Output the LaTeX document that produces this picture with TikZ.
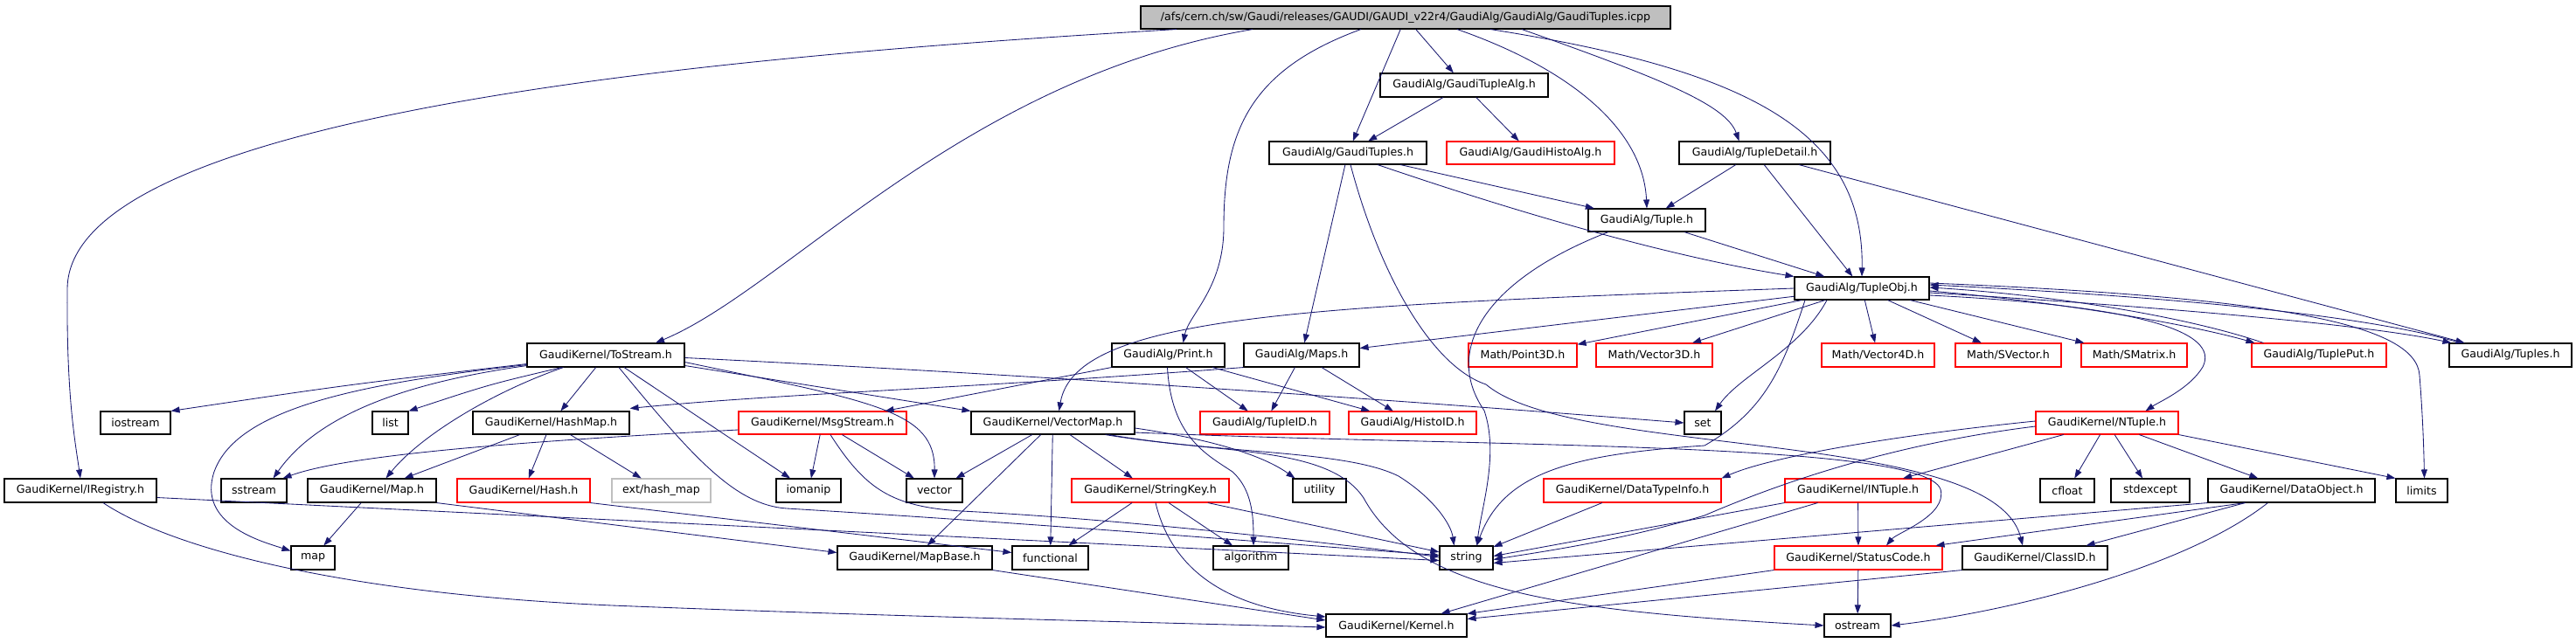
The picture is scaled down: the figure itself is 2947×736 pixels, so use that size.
\documentclass[tikz,border=0pt]{standalone}
\usepackage{fontspec}
\setmainfont{DejaVu Sans}
\usetikzlibrary{arrows.meta}
\definecolor{edgec}{RGB}{25,25,112}
\definecolor{rootgray}{RGB}{191,191,191}
\definecolor{lightgr}{RGB}{191,191,191}
\newcommand{\fsz}{\fontsize{12.6}{15}\selectfont}
\newcommand{\mkbox}[7]{%
  \pgfmathsetmacro{\cxx}{(#2+#4)/2}%
  \pgfmathsetmacro{\cyy}{(#3+#5)/2}%
  \pgfmathsetmacro{\www}{#4-#2}%
  \pgfmathsetmacro{\hhh}{#5-#3}%
  \node[#6, minimum width=\www pt, minimum height=\hhh pt] (#1) at (\cxx,\cyy) {#7};}
\tikzset{
  bbox/.style={draw=black, line width=1.1pt, inner sep=0pt, font=\fsz, text=black},
  rbox/.style={bbox, draw=red},
  gbox/.style={bbox, draw=lightgr},
  rootbox/.style={bbox, fill=rootgray},
  e/.style={draw=edgec, line width=0.85pt, -{Triangle[length=10pt,width=7pt]}}
}
\begin{document}
\begin{tikzpicture}[x=1pt,y=-1pt]
\useasboundingbox (0,0) rectangle (2947,736);
% row 0-2
\mkbox{root}{1305}{7}{1911}{33}{rootbox}{/afs/cern.ch/sw/Gaudi/releases/GAUDI/GAUDI\_v22r4/GaudiAlg/GaudiAlg/GaudiTuples.icpp}
\mkbox{tupalg}{1579}{84}{1771}{111}{bbox}{GaudiAlg/GaudiTupleAlg.h}
\mkbox{tuples}{1452}{162}{1632}{188}{bbox}{GaudiAlg/GaudiTuples.h}
\mkbox{histoalg}{1655}{162}{1847}{188}{rbox}{GaudiAlg/GaudiHistoAlg.h}
\mkbox{detail}{1921}{162}{2094}{188}{bbox}{GaudiAlg/TupleDetail.h}
\mkbox{tuple}{1817}{239}{1951}{265}{bbox}{GaudiAlg/Tuple.h}
\mkbox{tobj}{2053}{317}{2207}{343}{bbox}{GaudiAlg/TupleObj.h}
% row 393
\mkbox{tostream}{603}{393}{783}{420}{bbox}{GaudiKernel/ToStream.h}
\mkbox{print}{1272}{393}{1401}{420}{bbox}{GaudiAlg/Print.h}
\mkbox{maps}{1423}{393}{1555}{420}{bbox}{GaudiAlg/Maps.h}
\mkbox{p3d}{1680}{393}{1804}{420}{rbox}{Math/Point3D.h}
\mkbox{v3d}{1826}{393}{1959}{420}{rbox}{Math/Vector3D.h}
\mkbox{v4d}{2084}{393}{2213}{420}{rbox}{Math/Vector4D.h}
\mkbox{svec}{2237}{393}{2358}{420}{rbox}{Math/SVector.h}
\mkbox{smat}{2381}{393}{2502}{420}{rbox}{Math/SMatrix.h}
\mkbox{tput}{2576}{393}{2730}{420}{rbox}{GaudiAlg/TuplePut.h}
\mkbox{tuplesh}{2802}{393}{2942}{420}{bbox}{GaudiAlg/Tuples.h}
% row 471
\mkbox{iostream}{115}{471}{195}{497}{bbox}{iostream}
\mkbox{list}{426}{471}{467}{497}{bbox}{list}
\mkbox{hashmap}{541}{471}{720}{497}{bbox}{GaudiKernel/HashMap.h}
\mkbox{msgstream}{845}{471}{1037}{497}{rbox}{GaudiKernel/MsgStream.h}
\mkbox{vmap}{1111}{471}{1298}{497}{bbox}{GaudiKernel/VectorMap.h}
\mkbox{tupleid}{1373}{471}{1521}{497}{rbox}{GaudiAlg/TupleID.h}
\mkbox{histoid}{1543}{471}{1689}{497}{rbox}{GaudiAlg/HistoID.h}
\mkbox{set}{1927}{471}{1969}{497}{bbox}{set}
\mkbox{ntuple}{2329}{471}{2492}{497}{rbox}{GaudiKernel/NTuple.h}
% row 548
\mkbox{iregistry}{5}{548}{179}{575}{bbox}{GaudiKernel/IRegistry.h}
\mkbox{sstream}{253}{548}{328}{575}{bbox}{sstream}
\mkbox{maph}{352}{548}{499}{575}{bbox}{GaudiKernel/Map.h}
\mkbox{hash}{523}{548}{675}{575}{rbox}{GaudiKernel/Hash.h}
\mkbox{exthm}{700}{548}{813}{575}{gbox}{ext/hash\_map}
\mkbox{iomanip}{888}{548}{962}{575}{bbox}{iomanip}
\mkbox{vector}{1037}{548}{1101}{575}{bbox}{vector}
\mkbox{strkey}{1226}{548}{1406}{575}{rbox}{GaudiKernel/StringKey.h}
\mkbox{utility}{1479}{548}{1540}{575}{bbox}{utility}
\mkbox{dtinfo}{1766}{548}{1969}{575}{rbox}{GaudiKernel/DataTypeInfo.h}
\mkbox{intuple}{2042}{548}{2209}{575}{rbox}{GaudiKernel/INTuple.h}
\mkbox{cfloat}{2334}{548}{2396}{575}{bbox}{cfloat}
\mkbox{stdexcept}{2415}{548}{2505}{575}{bbox}{stdexcept}
\mkbox{dataobj}{2526}{548}{2717}{575}{bbox}{GaudiKernel/DataObject.h}
\mkbox{limits}{2741}{548}{2800}{575}{bbox}{limits}
% row 625
\mkbox{map}{333}{625}{383}{652}{bbox}{map}
\mkbox{mapbase}{958}{625}{1135}{652}{bbox}{GaudiKernel/MapBase.h}
\mkbox{functional}{1158}{625}{1245}{652}{bbox}{functional}
\mkbox{algorithm}{1388}{625}{1474}{652}{bbox}{algorithm}
\mkbox{string}{1647}{625}{1708}{652}{bbox}{string}
\mkbox{statuscode}{2030}{625}{2222}{652}{rbox}{GaudiKernel/StatusCode.h}
\mkbox{classid}{2245}{625}{2411}{652}{bbox}{GaudiKernel/ClassID.h}
% row 703
\mkbox{kernel}{1517}{703}{1678}{729}{bbox}{GaudiKernel/Kernel.h}
\mkbox{ostream}{2087}{703}{2163}{729}{bbox}{ostream}

% ---- edges: root
\draw[e] ([xshift=-262pt]root.south) .. controls (900,60) and (80,120) .. (77,330) .. controls (76,450) and (85,500) .. (iregistry.north);
\draw[e] ([xshift=-175pt]root.south) .. controls (1100,90) and (900,330) .. ([xshift=57pt]tostream.north);
\draw[e] (root) -- (tupalg);
\draw[e] (root) -- (tuples);
\draw[e] ([xshift=-51pt]root.south) .. controls (1430,80) and (1400,150) .. (1400,260) .. controls (1400,330) and (1360,360) .. ([xshift=17pt]print.north);
\draw[e] ([xshift=59pt]root.south) .. controls (1800,80) and (1880,150) .. (tuple.north);
\draw[e] ([xshift=133pt]root.south) .. controls (1900,90) and (1975,120) .. ([xshift=-18pt]detail.north);
\draw[e] ([xshift=97pt]root.south) .. controls (2000,80) and (2133,150) .. (tobj.north);
% tupalg
\draw[e] (tupalg) -- (tuples);
\draw[e] (tupalg) -- (histoalg);
% tuples
\draw[e] (tuples) -- (maps);
\draw[e] (tuples) -- (tuple);
\draw[e] ([xshift=34pt]tuples.south) .. controls (1800,265) and (1950,300) .. (tobj.north west);
\draw[e] ([xshift=3pt]tuples.south) .. controls (1580,320) and (1640,420) .. (1700,440) .. controls (1800,525) and (2280,490) .. ([xshift=-14pt]classid.north);
% detail
\draw[e] (detail) -- (tuple);
\draw[e] (detail) -- (tobj);
\draw[e] (detail) -- (tuplesh);
% tuple
\draw[e] (tuple) -- (tobj);
\draw[e] ([xshift=-44pt]tuple.south) .. controls (1700,320) and (1650,400) .. (1698,470) .. controls (1715,520) and (1695,580) .. ([xshift=12pt]string.north);
% tobj
\draw[e] (tobj) -- (maps);
\draw[e] (tobj.west) .. controls (1500,350) and (1230,360) .. ([xshift=7pt]vmap.north);
\draw[e] (tobj) -- (p3d);
\draw[e] (tobj) -- (v3d);
\draw[e] (tobj) -- (v4d);
\draw[e] (tobj) -- (svec);
\draw[e] (tobj) -- (smat);
\draw[e] ([yshift=-3pt]tobj.east) .. controls (2350,345) and (2500,370) .. ([xshift=4pt]tput.north west);
\draw[e] ([xshift=14pt]tput.north west) .. controls (2500,362) and (2350,338) .. ([yshift=1pt]tobj.east);
\draw[e] ([yshift=-5pt]tobj.east) .. controls (2450,350) and (2700,370) .. ([xshift=3pt]tuplesh.north west);
\draw[e] ([xshift=13pt]tuplesh.north west) .. controls (2700,358) and (2450,338) .. ([yshift=4pt]tobj.east);
\draw[e] ([yshift=-8pt]tobj.east) .. controls (2450,350) and (2540,380) .. (2520,420) .. controls (2505,445) and (2470,460) .. ([xshift=44pt]ntuple.north);
\draw[e] ([yshift=6pt]tobj.east) .. controls (2600,340) and (2765,370) .. (2768,430) .. controls (2772,480) and (2773,520) .. ([xshift=3pt]limits.north);
\draw[e] ([xshift=-40pt]tobj.south) .. controls (2060,400) and (1990,430) .. ([xshift=14pt]set.north);
\draw[e] ([xshift=-65pt]tobj.south) .. controls (2040,420) and (2020,470) .. (1950,510) .. controls (1800,520) and (1720,540) .. ([xshift=12pt]string.north);
% tostream
\draw[e] ([yshift=4pt]tostream.south west) .. controls (400,440) .. (iostream.north east);
\draw[e] ([yshift=3pt]tostream.south west) .. controls (400,440) and (270,470) .. (245,540) .. controls (225,600) and (300,620) .. ([yshift=8pt]map.west);
\draw[e] ([yshift=2pt]tostream.south west) .. controls (450,440) and (360,480) .. ([xshift=-16pt]sstream.north east);
\draw[e] ([xshift=40pt]tostream.south west) .. controls (560,440) .. (list.north east);
\draw[e] ([xshift=42pt]tostream.south west) .. controls (560,450) and (480,500) .. ([xshift=16pt]maph.north);
\draw[e] (tostream) -- (hashmap);
\draw[e] ([xshift=15pt]tostream.south) .. controls (790,520) and (840,578) .. (900,582) .. controls (1200,600) and (1500,625) .. ([yshift=3pt]string.west);
\draw[e] (tostream) -- (iomanip);
\draw[e] ([yshift=-8pt]tostream.east) .. controls (1000,460) and (1070,470) .. (vector.north);
\draw[e] ([yshift=-12pt]tostream.east) -- (vmap.north west);
\draw[e] ([yshift=-3pt]tostream.east) .. controls (1100,425) and (1500,450) .. (set.west);
% print
\draw[e] (print.south west) -- ([xshift=-25pt]msgstream.north east);
\draw[e] (print) -- (tupleid);
\draw[e] (print) -- (histoid);
\draw[e] ([xshift=-1pt]print.south) .. controls (1340,500) and (1380,520) .. (1410,540) .. controls (1432,560) and (1434,590) .. ([xshift=3pt]algorithm.north);
% maps
\draw[e] (maps.south west) .. controls (1100,445) and (900,450) .. ([yshift=3pt]hashmap.north east);
\draw[e] (maps) -- (tupleid);
\draw[e] (maps) -- (histoid);
% hashmap
\draw[e] (hashmap) -- (maph);
\draw[e] (hashmap) -- (hash);
\draw[e] (hashmap) -- (exthm);
% msgstream
\draw[e] ([yshift=-8pt]msgstream.west) .. controls (600,505) and (400,520) .. ([xshift=-5pt]sstream.north east);
\draw[e] (msgstream) -- (iomanip);
\draw[e] (msgstream) -- (vector);
\draw[e] ([xshift=9pt]msgstream.south) .. controls (990,560) and (1020,580) .. (1100,585) .. controls (1300,595) and (1550,625) .. ([yshift=1pt]string.west);
% vmap
\draw[e] (vmap) -- (vector);
\draw[e] (vmap) -- (mapbase);
\draw[e] (vmap) -- (functional);
\draw[e] (vmap) -- (strkey);
\draw[e] ([yshift=-6pt]vmap.east) .. controls (1400,505) and (1450,525) .. ([xshift=3pt]utility.north west);
\draw[e] ([xshift=60pt]vmap.south) .. controls (1400,520) and (1520,510) .. (1560,570) .. controls (1620,680) and (1800,700) .. (ostream.west);
\draw[e] ([xshift=64pt]vmap.south) .. controls (1400,520) and (1540,515) .. (1600,545) .. controls (1640,570) and (1660,600) .. ([xshift=-14pt]string.north);
\draw[e] ([yshift=-11pt]vmap.east) .. controls (1700,512) and (2200,505) .. (2220,560) .. controls (2228,590) and (2170,610) .. ([xshift=32pt]statuscode.north);
% strkey
\draw[e] (strkey) -- (functional);
\draw[e] (strkey) -- (algorithm);
\draw[e] (strkey) -- (string);
\draw[e] ([xshift=6pt]strkey.south) .. controls (1340,650) and (1400,695) .. ([yshift=10pt]kernel.west);
% hash, map.h
\draw[e] (hash.south east) -- ([yshift=6pt]functional.west);
\draw[e] (maph) -- (map);
\draw[e] (maph.south east) -- ([yshift=6pt]mapbase.west);
% iregistry
\draw[e] ([yshift=-8pt]iregistry.east) -- ([yshift=-3pt]string.west);
\draw[e] ([xshift=26pt]iregistry.south) .. controls (200,630) and (400,680) .. (700,693) .. controls (1000,705) and (1300,712) .. ([yshift=-2pt]kernel.west);
% mapbase
\draw[e] (mapbase.south east) -- ([yshift=6pt]kernel.west);
% dtinfo
\draw[e] (dtinfo) -- (string);
% intuple
\draw[e] (intuple.south west) -- ([yshift=2pt]string.east);
\draw[e] (intuple) -- (statuscode);
\draw[e] ([xshift=-46pt]intuple.south) -- ([xshift=-30pt]kernel.north east);
% ntuple
\draw[e] ([yshift=-4pt]ntuple.west) .. controls (2150,510) and (2020,560) .. (1950,590) .. controls (1850,620) and (1760,632) .. ([yshift=-2pt]string.east);
\draw[e] ([yshift=2pt]ntuple.west) .. controls (2150,500) and (2020,525) .. (dtinfo.north east);
\draw[e] (ntuple) -- (intuple);
\draw[e] (ntuple) -- (cfloat);
\draw[e] (ntuple) -- (stdexcept);
\draw[e] (ntuple) -- (dataobj);
\draw[e] (ntuple.south east) -- (limits.north west);
% dataobj
\draw[e] (dataobj.south west) -- ([yshift=-6pt]string.east);
\draw[e] ([xshift=43pt]dataobj.south west) -- ([xshift=-8pt]statuscode.north east);
\draw[e] ([xshift=43pt]dataobj.south west) -- ([xshift=-25pt]classid.north east);
\draw[e] ([xshift=69pt]dataobj.south west) .. controls (2500,650) and (2300,700) .. (ostream.east);
% statuscode, classid
\draw[e] (statuscode.south west) -- (kernel.north east);
\draw[e] (statuscode) -- (ostream);
\draw[e] (classid.south west) -- ([yshift=-6pt]kernel.north east);
\end{tikzpicture}
\end{document}
